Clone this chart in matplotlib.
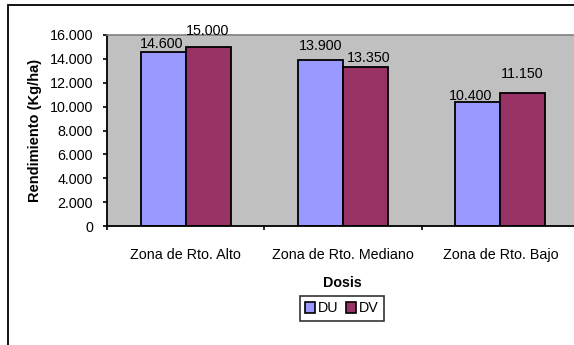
import matplotlib
matplotlib.use("Agg")
import matplotlib.pyplot as plt
from matplotlib.patches import Rectangle
from matplotlib.ticker import FuncFormatter

plt.rcParams["font.family"] = ["Liberation Sans", "DejaVu Sans"]
plt.rcParams["font.size"] = 10.3

zonas = ["Zona de Rto. Alto", "Zona de Rto. Mediano", "Zona de Rto. Bajo"]
du = [14600, 13900, 10400]
dv = [15000, 13350, 11150]
series = ["DU", "DV"]
colores = ["#9999FF", "#993366"]

# pixel nudges for the value labels (dx, dy above bar top)
off_du = [(-2, 8), (0, 14), (-7, 6)]
off_dv = [(-1, 16), (3, 9), (-1, 19)]


def miles(v, pos=None):
    return f"{v:,.0f}".replace(",", ".")


W, H = 574, 345
fig = plt.figure(figsize=(W / 100, H / 100), dpi=100)
ax = fig.add_axes([107 / W, 1 - 226 / H, (579 - 107) / W, (226 - 35) / H])
ax.set_facecolor("#C0C0C0")

ancho = 1 / 3.5
x = list(range(len(zonas)))
b1 = ax.bar([i - ancho / 2 for i in x], du, ancho, color=colores[0], edgecolor="black", linewidth=1.3)
b2 = ax.bar([i + ancho / 2 for i in x], dv, ancho, color=colores[1], edgecolor="black", linewidth=1.3)

for bars, vals, offs in ((b1, du, off_du), (b2, dv, off_dv)):
    for b, v, (dx, dy) in zip(bars, vals, offs):
        ax.annotate(miles(v), (b.get_x() + b.get_width() / 2, v), xytext=(dx, dy),
                    textcoords="offset pixels", ha="center", va="center")

ax.set_xlim(-0.5, 2.5)
ax.set_ylim(0, 16000)
ax.set_yticks(range(0, 16001, 2000))
ax.yaxis.set_major_formatter(FuncFormatter(miles))
ax.tick_params(axis="y", direction="out", length=3, width=1.2, pad=7)

ax.set_xticks([-0.5, 0.5, 1.5, 2.5])
ax.set_xticklabels([])
ax.set_xticks(x, minor=True)
ax.set_xticklabels(zonas, minor=True)
ax.tick_params(axis="x", which="major", direction="out", length=3, width=1.2)
ax.tick_params(axis="x", which="minor", length=0, pad=16)

ax.spines["left"].set_linewidth(1.3)
ax.spines["bottom"].set_linewidth(1.3)
ax.spines["top"].set_color("#808080")
ax.spines["top"].set_linewidth(1.2)
ax.spines["right"].set_visible(False)

fig.text(35 / W, 1 - 130 / H, "Rendimiento (Kg/ha)", rotation=90, ha="center", va="center",
         fontweight="bold", fontsize=10.5)
fig.text(342 / W, 1 - 283 / H, "Dosis", ha="center", va="center", fontweight="bold", fontsize=10.3)

handles = [Rectangle((0, 0), 1, 1, facecolor=c, edgecolor="black", linewidth=1.2) for c in colores]
leg = fig.legend(handles, series, loc="center", bbox_to_anchor=(342 / W, 1 - 308.5 / H), ncol=2,
                 frameon=True, fancybox=False, handlelength=0.7, handleheight=0.7,
                 handletextpad=0.2, columnspacing=0.5, borderpad=0.35, borderaxespad=0)
leg.get_frame().set_edgecolor("black")
leg.get_frame().set_linewidth(1.2)

fig.add_artist(Rectangle((8 / W, -0.5), 2, 1.5 - 5 / H, transform=fig.transFigure,
                         fill=False, edgecolor="black", linewidth=1.3))

fig.savefig("out.png", dpi=100)
